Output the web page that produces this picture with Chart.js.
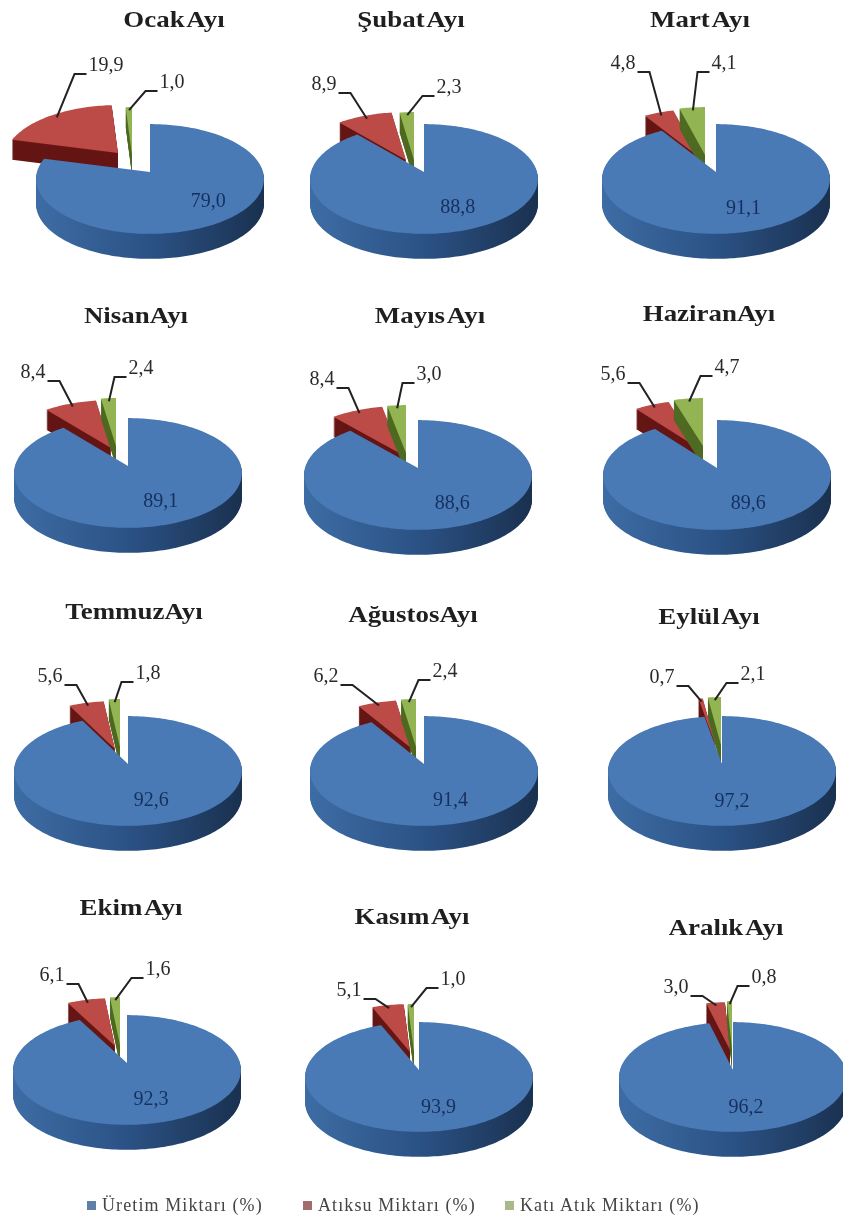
<!DOCTYPE html>
<html lang="tr">
<head>
<meta charset="utf-8">
<title>Aylık üretim ve atık oranları</title>
<script src="https://cdn.jsdelivr.net/npm/chart.js@4/dist/chart.umd.min.js"></script>
<style>
  html, body { margin: 0; background: #fff; }
  #page { position: relative; width: 843px; height: 1223px; overflow: hidden; }
  #page canvas { position: absolute; }
  .title {
    position: absolute; transform: translate(-50%, -50%) scaleX(1.17); white-space: nowrap;
    font: bold 23px "Liberation Serif", serif; word-spacing: -3px; color: #1f1f1f;
  }
  .legend-item {
    position: absolute; top: 1195px; white-space: nowrap;
    font: 18px "Liberation Serif", serif; letter-spacing: 1.1px; color: #444;
  }
  .legend-item i { display: inline-block; width: 9px; height: 9px; margin-right: 6px; vertical-align: 1px; }
</style>
</head>
<body>
<div id="page"></div>
<script>
const months = ['Ocak Ayı', 'Şubat Ayı', 'Mart Ayı', 'NisanAyı', 'Mayıs Ayı', 'HaziranAyı',
  'TemmuzAyı', 'AğustosAyı', 'Eylül Ayı', 'Ekim Ayı', 'Kasım Ayı', 'Aralık Ayı'];
const seriesNames = ['Üretim Miktarı (%)', 'Atıksu Miktarı (%)', 'Katı Atık Miktarı (%)'];
const uretim = [79.0, 88.8, 91.1, 89.1, 88.6, 89.6, 92.6, 91.4, 97.2, 92.3, 93.9, 96.2];
const atiksu = [19.9, 8.9, 4.8, 8.4, 8.4, 5.6, 5.6, 6.2, 0.7, 6.1, 5.1, 3.0];
const katiAtik = [1.0, 2.3, 4.1, 2.4, 3.0, 4.7, 1.8, 2.4, 2.1, 1.6, 1.0, 0.8];

// page layout, one row per month
const pieCenters = [[150, 172], [424, 172], [716, 172], [128, 466], [418, 468], [717, 468],
  [128, 764], [424, 764], [722, 764], [127, 1063], [419, 1070], [733, 1070]];
const titleSpots = [[174, 20], [411, 20], [700, 20], [136, 316], [430, 316], [709, 314],
  [134, 612], [413, 615], [709, 617], [131, 908], [412, 917], [726, 928]];
const redPulls = [[-32, -19], [-18, -12], [-17, -15], [-17, -18], [-17, -14], [-19, -20],
  [-13, -15], [-13, -16], [-6, -18], [-12, -17], [-9, -18], [-3, -20]];
const greenPulls = [[-18, -17], [-10, -12], [-11, -17], [-12, -20], [-12, -15], [-14, -22],
  [-8, -17], [-8, -17], [-1, -19], [-7, -18], [-5, -18], [-1, -21]];
const redLabels = [[106, 66], [324, 85], [623, 64], [33, 373], [322, 380], [613, 375],
  [50, 677], [326, 677], [662, 678], [52, 976], [349, 991], [676, 988]];
const greenLabels = [[172, 83], [449, 88], [724, 64], [141, 369], [429, 375], [727, 368],
  [148, 674], [445, 672], [753, 675], [158, 970], [453, 980], [764, 978]];

const RADIUS = 113;
const DEPTH = 25;
const PULLED_DEPTH = 20;
const TILT = 54; // vertical half size of the flat pie
const PERSP = 0.127; // nearer rim is drawn lower and larger
const CANVAS_W = 320;
const CANVAS_H = 300;

const topColors = ['#4a7ab6', '#bc4a46', '#93b452'];
const sideColors = [null, '#651614', '#4f6a22'];
const legendColors = ['#5f7fa6', '#a26c6c', '#a9b98c'];

function project(arc, angle, frac) {
  const u = Math.cos(angle) * frac;
  const v = Math.sin(angle) * frac;
  const den = 1 - PERSP * v;
  return { x: arc.x + (arc.outerRadius * u) / den, y: arc.y + (TILT * v) / den };
}

function sliceOutline(ctx, arc, dx, dy) {
  const a = project(arc, arc.startAngle, 0);
  ctx.beginPath();
  ctx.moveTo(a.x + dx, a.y + dy);
  const steps = Math.max(2, Math.ceil((arc.endAngle - arc.startAngle) * 40));
  for (let i = 0; i <= steps; i++) {
    const t = arc.startAngle + ((arc.endAngle - arc.startAngle) * i) / steps;
    const p = project(arc, t, 1);
    ctx.lineTo(p.x + dx, p.y + dy);
  }
  ctx.closePath();
}

function drawSlice(ctx, arc, index, pull) {
  const side = ctx.createLinearGradient(arc.x - RADIUS, 0, arc.x + RADIUS, 0);
  side.addColorStop(0, '#3d6ca4');
  side.addColorStop(0.5, '#2b5285');
  side.addColorStop(1, '#1a3150');
  ctx.fillStyle = sideColors[index] || side;
  for (let d = index === 0 ? DEPTH : PULLED_DEPTH; d > 0; d--) {
    sliceOutline(ctx, arc, pull[0], pull[1] + d);
    ctx.fill();
  }
  ctx.fillStyle = topColors[index];
  sliceOutline(ctx, arc, pull[0], pull[1]);
  ctx.fill();
}

function drawLeader(ctx, arc, pull, spot, text, origin) {
  const mid = (arc.startAngle + arc.endAngle) / 2;
  const rim = project(arc, mid, 0.93);
  const ax = rim.x + pull[0];
  const ay = rim.y + pull[1];
  const lx = spot[0] - origin[0];
  const ly = spot[1] - origin[1];
  const half = ctx.measureText(text).width / 2;
  const dir = ax > lx ? 1 : -1;
  ctx.strokeStyle = '#222';
  ctx.lineWidth = 2;
  ctx.beginPath();
  ctx.moveTo(lx + dir * (half + 2), ly + 8);
  ctx.lineTo(lx + dir * (half + 14), ly + 8);
  ctx.lineTo(ax, ay);
  ctx.stroke();
  ctx.fillStyle = '#2a2a2a';
  ctx.fillText(text, lx, ly);
}

const pie3d = {
  id: 'pie3d',
  beforeDatasetDraw(chart, args, opts) {
    const ctx = chart.ctx;
    const arcs = args.meta.data;
    const pulls = [[0, 0], opts.red, opts.green];
    const values = chart.data.datasets[0].data.map((v) => v.toFixed(1).replace('.', ','));
    ctx.save();
    [1, 2, 0].forEach((i) => drawSlice(ctx, arcs[i], i, pulls[i]));

    ctx.font = '20px "Liberation Serif", serif';
    ctx.textAlign = 'center';
    ctx.textBaseline = 'middle';
    drawLeader(ctx, arcs[1], opts.red, opts.redLabel, values[1], opts.origin);
    drawLeader(ctx, arcs[2], opts.green, opts.greenLabel, values[2], opts.origin);

    // main share sits on the front of the pie, towards the slice middle
    const mid = (arcs[0].startAngle + arcs[0].endAngle) / 2;
    ctx.fillStyle = '#15305f';
    ctx.fillText(values[0], arcs[0].x + Math.cos(mid) * 92 + 2, arcs[0].y + Math.sin(mid) * 38);
    ctx.restore();
    return false;
  },
};

const page = document.getElementById('page');

months.forEach((month, i) => {
  const [cx, cy] = pieCenters[i];
  const left = cx - CANVAS_W / 2;
  const top = cy - CANVAS_H / 2;
  const canvas = document.createElement('canvas');
  canvas.width = CANVAS_W;
  canvas.height = CANVAS_H;
  canvas.style.left = left + 'px';
  canvas.style.top = top + 'px';
  page.appendChild(canvas);

  new Chart(canvas, {
    type: 'pie',
    data: {
      labels: seriesNames,
      datasets: [{ data: [uretim[i], atiksu[i], katiAtik[i]], backgroundColor: topColors, borderWidth: 0, radius: RADIUS }],
    },
    plugins: [pie3d],
    options: {
      responsive: false,
      animation: false,
      rotation: 0,
      plugins: {
        legend: { display: false },
        tooltip: { enabled: false },
        pie3d: {
          red: redPulls[i],
          green: greenPulls[i],
          redLabel: redLabels[i],
          greenLabel: greenLabels[i],
          origin: [left, top],
        },
      },
    },
  });

  const title = document.createElement('div');
  title.className = 'title';
  title.textContent = month;
  title.style.left = titleSpots[i][0] + 'px';
  title.style.top = titleSpots[i][1] + 'px';
  page.appendChild(title);
});

// shared legend under the last row
const legendLefts = [87, 303, 505];
seriesNames.forEach((name, i) => {
  const item = document.createElement('div');
  item.className = 'legend-item';
  item.style.left = legendLefts[i] + 'px';
  const swatch = document.createElement('i');
  swatch.style.background = legendColors[i];
  item.appendChild(swatch);
  item.appendChild(document.createTextNode(name));
  page.appendChild(item);
});
</script>
</body>
</html>
